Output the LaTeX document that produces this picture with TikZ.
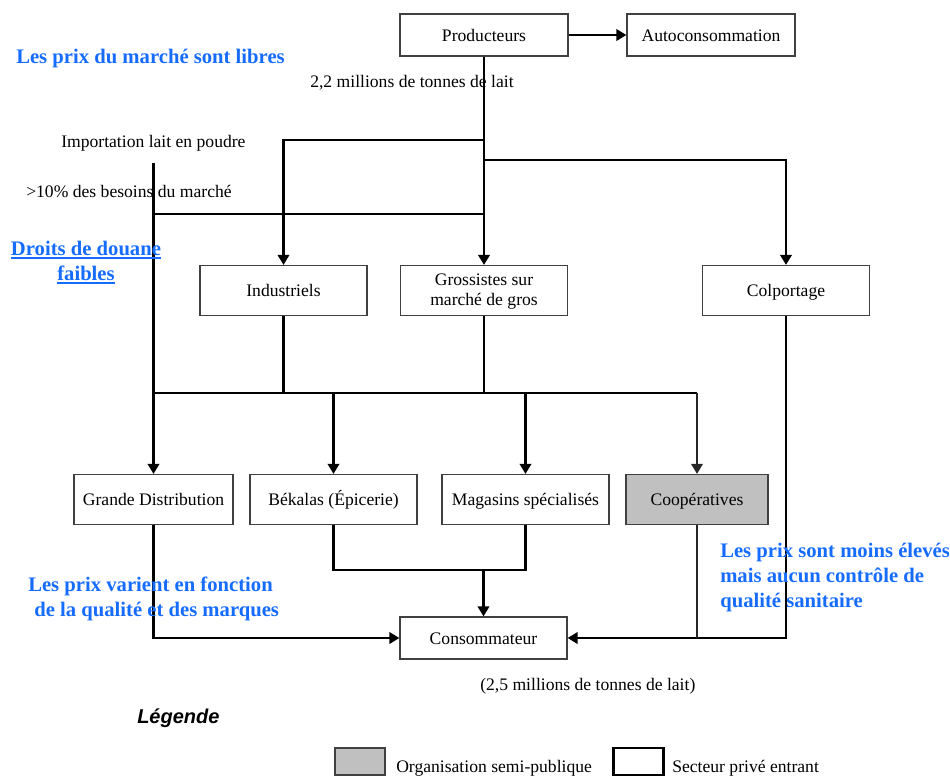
\documentclass[tikz,border=0pt]{standalone}
\usepackage{fontspec}
\setmainfont{Liberation Serif}
\newfontfamily\arialfont{Liberation Sans}
\usetikzlibrary{arrows.meta}
\definecolor{noteblue}{RGB}{22,108,255}
\definecolor{boxline}{RGB}{64,64,64}
\definecolor{semipub}{RGB}{192,192,192}
% underline drawn as a thicker rule in the current colour
\newcommand\thickul[1]{\leavevmode\vtop{\hbox{#1}\kern1.2pt\hrule height 1.5pt}}

\begin{document}
\begin{tikzpicture}[x=0.75pt,y=-0.75pt,
  txt/.style={font=\fontsize{13.2}{15}\selectfont, inner sep=0pt},
  note/.style={font=\bfseries\fontsize{15.5}{18.75}\selectfont, text=noteblue, inner sep=0pt, align=left},
  box/.style={txt, draw=boxline, line width=0.9pt, align=center, minimum height=37.5pt, minimum width=125.25pt, text height=9pt, text depth=0pt},
  topbox/.style={box, minimum height=31.5pt, minimum width=126pt},
  flow/.style={line width=2.2pt, draw=black},
  arr/.style={flow, -{Triangle[length=7.5pt,width=8.5pt]}},
  thinflow/.style={line width=1.6pt, draw=black!85},
  thinarr/.style={thinflow, -{Triangle[length=7.5pt,width=8.5pt]}},
]
\useasboundingbox (0,0) rectangle (950,776);

% boxes
\node[topbox] (prod) at (484,35) {Producteurs};
\node[topbox] (auto) at (711,35) {Autoconsommation};
\node[box] (ind) at (283.5,290.5) {Industriels};
\node[box, text height=23pt] (gros) at (484,290.5) {Grossistes sur\\marché de gros};
\node[box] (col) at (786,290.5) {Colportage};
\node[box, minimum width=119.25pt] (gd) at (153.5,499.5) {Grande Distribution};
\node[box] (bek) at (333.5,499.5) {Békalas (Épicerie)};
\node[box] (mag) at (525.5,499.5) {Magasins spécialisés};
\node[box, minimum width=106.5pt, fill=semipub] (coop) at (697,499.5) {Coopératives};
\node[topbox, minimum width=125.25pt] (cons) at (483.5,638) {Consommateur};

% junctions
\coordinate (jInd) at (484,140);
\coordinate (jCol) at (484,160);
\coordinate (jImp) at (484,214);
\coordinate (impTop) at (153.5,163);
\coordinate (jImpL) at (153.5,214);
\coordinate (jMidL) at (153.5,393);
\coordinate (jMid) at (484,393);
\coordinate (jMidR) at (697,393);
\coordinate (jLow) at (483.5,570);

% flows from producers
\draw[arr] (prod.east) -- (auto.west);
\draw[arr] (prod.south) -- (gros.north);
\draw[arr] (jInd) -| (ind.north);
\draw[arr] (jCol) -| (col.north);

% imported powdered milk
\draw[arr] (impTop) -- (gd.north);
\draw[flow] (jImpL) -- (jImp);

% towards retail
\draw[flow] (ind.south) |- (jMidL);
\draw[flow] (gros.south) -- (jMid);
\draw[flow] (jMidL) -- (jMidR);
\draw[arr] (bek.north |- jMid) -- (bek.north);
\draw[arr] (mag.north |- jMid) -- (mag.north);
\draw[thinarr] (jMidR) -- (coop.north);

% towards the consumer
\draw[arr] (gd.south) |- (cons.west);
\draw[flow] (bek.south) |- (jLow) -| (mag.south);
\draw[arr] (jLow) -- (cons.north);
\draw[arr] (col.south) |- (cons.east);
\draw[thinflow] (coop.south) -- (coop.south |- cons.east);

% labels
\node[txt, anchor=base west] (qprod) at (310,87) {2,2 millions de tonnes de lait};
\node[txt, anchor=base west] (imp) at (61,147) {Importation lait en poudre};
\node[txt, anchor=base west] (impq) at (26,197) {>10\% des besoins du marché};
\node[txt, anchor=base west] (qcons) at (480,690) {(2,5 millions de tonnes de lait)};

% notes (base anchor = baseline of the last line)
\node[note, anchor=base west] (n1) at (16,63) {Les prix du marché sont libres};
\node[note, anchor=base, align=center] (n2) at (86,280) {\thickul{Droits de douane}\\\thickul{faibles}};
\node[note, anchor=base west] (n3) at (28,616) {Les prix varient en fonction\\\hspace*{4.5pt}de la qualité et des marques};
\node[note, anchor=base west] (n4) at (720,607) {Les prix sont moins élevés\\mais aucun contrôle de\\qualité sanitaire};

% legend
\node[anchor=base west, inner sep=0pt, font=\arialfont\bfseries\itshape\fontsize{15}{18}\selectfont] (leg) at (137,723) {Légende};
\node[draw=boxline, line width=0.9pt, fill=semipub, minimum width=37.5pt, minimum height=20.25pt, inner sep=0pt] (legGray) at (360,761.5) {};
\node[txt, anchor=base west] (legGrayT) at (396,772) {Organisation semi-publique};
\node[draw=black, line width=2.2pt, minimum width=37.5pt, minimum height=20.25pt, inner sep=0pt] (legWhite) at (638.5,761.5) {};
\node[txt, anchor=base west] (legWhiteT) at (672,772) {Secteur privé entrant};
\end{tikzpicture}
\end{document}
